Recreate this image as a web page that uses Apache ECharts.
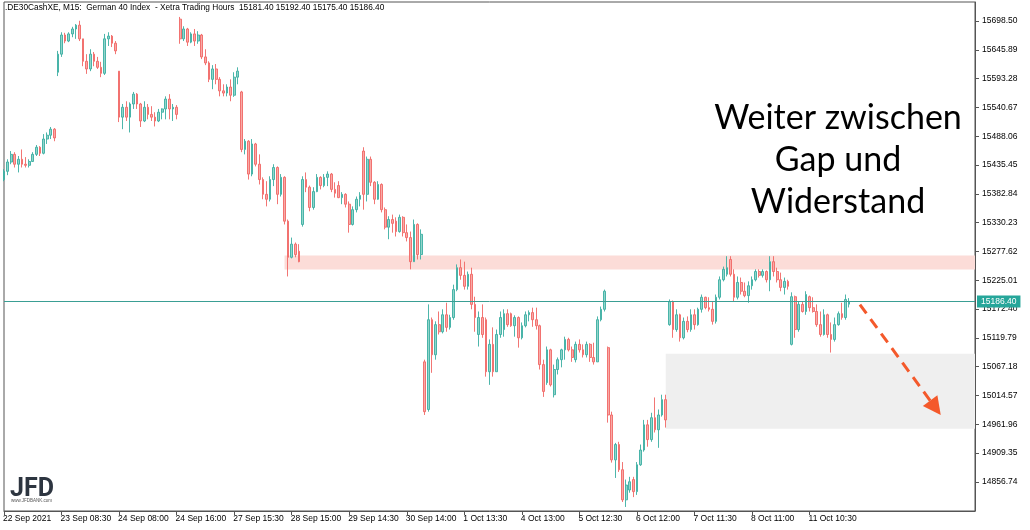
<!DOCTYPE html>
<html><head><meta charset="utf-8">
<script src="https://cdn.jsdelivr.net/npm/echarts@6/dist/echarts.min.js"></script>
<style>html,body{margin:0;padding:0;background:#fff}#c{width:1030px;height:530px}</style>
</head><body><div id="c"></div>
<script>
const titleText = '.DE30CashXE, M15:  German 40 Index  - Xetra Trading Hours  15181.40 15192.40 15175.40 15186.40';
const xTickLabels = ['22 Sep 2021','23 Sep 08:30','24 Sep 08:00','24 Sep 16:00','27 Sep 15:30','28 Sep 15:00','29 Sep 14:30','30 Sep 14:00','1 Oct 13:30','4 Oct 13:00','5 Oct 12:30','6 Oct 12:00','7 Oct 11:30','8 Oct 11:00','11 Oct 10:30'];
const barsPerTick = 16;
const totalSlots = 271;
const yTickValues = [14856.74,14909.35,14961.96,15014.57,15067.18,15119.79,15172.40,15225.01,15277.62,15330.23,15382.84,15435.45,15488.06,15540.67,15593.28,15645.89,15698.50];
const yMin = 14803.6, yMax = 15733.3;
// [open, close, low, high]
const candles = [
// 22 Sep
[15409,15424,15406,15428],[15424,15441,15417,15446],[15441,15455,15437,15461],[15455,15437,15431,15459],[15437,15446,15422,15452],
[15446,15437,15431,15464],[15437,15435,15431,15450],[15435,15442,15431,15446],[15442,15455,15441,15459],[15455,15468,15452,15472],
[15468,15457,15452,15470],[15457,15483,15455,15492],[15483,15490,15474,15495],[15490,15501,15483,15505],[15501,15485,15479,15503],
// 23 Sep
[15605,15638,15598,15644],[15638,15673,15633,15678],[15673,15662,15658,15677],[15662,15675,15660,15678],[15675,15684,15669,15688],
[15684,15691,15666,15693],[15691,15666,15662,15699],[15666,15625,15616,15666],[15625,15611,15602,15638],[15611,15638,15607,15647],
[15638,15625,15616,15642],[15625,15614,15611,15633],[15614,15603,15596,15624],[15603,15666,15600,15675],[15666,15671,15653,15678],
[15671,15658,15651,15673],[15658,15644,15638,15662],
// 24 Sep
[15607,15523,15514,15607],[15523,15541,15501,15547],[15541,15523,15516,15552],[15523,15547,15495,15550],[15547,15565,15538,15569],
[15565,15547,15538,15567],[15547,15516,15505,15549],[15516,15541,15514,15552],[15541,15528,15519,15547],[15528,15523,15516,15543],
[15523,15516,15506,15532],[15516,15532,15514,15538],[15532,15538,15519,15539],[15538,15556,15519,15561],[15556,15538,15519,15565],
[15538,15541,15516,15547],[15541,15528,15519,15545],
// 27 Sep
[15702,15666,15657,15706],[15666,15684,15662,15689],[15684,15660,15653,15686],[15660,15675,15658,15678],[15675,15662,15653,15684],
[15662,15673,15657,15680],[15673,15633,15629,15675],[15633,15622,15618,15647],[15622,15592,15587,15625],[15592,15611,15574,15618],
[15611,15592,15583,15620],[15592,15571,15561,15596],[15571,15567,15561,15583],[15567,15578,15561,15583],[15578,15563,15552,15592],
[15563,15596,15560,15605],[15596,15607,15583,15614],
// 28 Sep
[15569,15464,15459,15571],[15464,15479,15455,15483],[15479,15419,15409,15481],[15419,15474,15415,15483],[15474,15437,15433,15476],
[15437,15409,15400,15455],[15409,15382,15373,15413],[15382,15373,15360,15406],[15373,15409,15369,15415],[15409,15431,15397,15437],
[15431,15382,15364,15433],[15382,15413,15378,15419],[15413,15333,15327,15415],[15333,15267,15232,15336],[15267,15291,15265,15303],
[15291,15272,15267,15294],[15278,15259,15258,15291],
// 29 Sep
[15327,15409,15323,15415],[15409,15395,15386,15422],[15395,15358,15351,15398],[15358,15387,15354,15395],[15387,15413,15386,15419],
[15413,15398,15391,15415],[15398,15413,15395,15419],[15413,15419,15397,15424],[15419,15391,15386,15421],[15391,15384,15376,15404],
[15398,15376,15375,15406],[15376,15382,15364,15386],[15382,15364,15358,15384],[15364,15327,15312,15369],[15327,15354,15325,15360],
[15354,15373,15349,15378],[15373,15380,15360,15386],
// 30 Sep
[15461,15382,15354,15468],[15382,15446,15369,15451],[15446,15404,15397,15451],[15404,15373,15364,15406],[15373,15400,15372,15406],
[15400,15354,15349,15402],[15354,15322,15318,15358],[15322,15336,15300,15342],[15336,15329,15312,15345],[15333,15314,15305,15340],
[15314,15340,15312,15345],[15340,15312,15305,15342],[15312,15303,15296,15327],[15303,15259,15245,15314],[15259,15327,15259,15336],
[15327,15272,15263,15329],[15272,15309,15263,15318],
// 1 Oct
[15076,14985,14979,15080],[14989,15153,14985,15181],[15153,15089,15056,15157],[15089,15144,15080,15150],[15144,15131,15126,15168],
[15131,15162,15128,15172],[15162,15139,15131,15184],[15139,15157,15135,15162],[15157,15208,15153,15217],[15208,15248,15205,15254],
[15248,15234,15226,15263],[15234,15214,15208,15259],[15214,15236,15208,15241],[15236,15181,15172,15248],[15181,15157,15131,15195],
[15126,15157,15104,15168],[15157,15126,15120,15181],
// 4 Oct
[15153,15058,15049,15157],[15058,15108,15034,15117],[15108,15058,15049,15139],[15058,15126,15058,15135],[15126,15157,15120,15168],
[15135,15164,15122,15172],[15164,15144,15140,15172],[15164,15142,15140,15166],[15142,15157,15122,15161],[15157,15120,15102,15159],
[15120,15142,15117,15148],[15142,15162,15139,15168],[15162,15166,15150,15170],[15166,15153,15140,15175],[15153,15142,15135,15175],
[15142,15071,15062,15144],[15071,15022,15012,15080],
// 5 Oct
[15038,15098,15034,15104],[15098,15034,15031,15100],[15016,15062,15011,15071],[15062,15080,15053,15084],[15080,15098,15066,15100],
[15098,15117,15080,15122],[15117,15098,15095,15120],[15098,15084,15076,15104],[15080,15108,15075,15113],[15108,15098,15093,15117],
[15098,15089,15084,15108],[15089,15108,15084,15113],[15108,15084,15076,15110],[15084,15076,15071,15111],[15076,15153,15076,15159],
[15153,15172,15150,15177],[15172,15205,15168,15208],
// 6 Oct
[15102,14979,14965,15104],[14979,14897,14892,14985],[14897,14925,14864,14928],[14925,14879,14875,14930],[14879,14824,14820,14893],
[14824,14851,14811,14861],[14842,14857,14837,14866],[14861,14839,14829,14866],[14839,14888,14833,14893],[14888,14915,14886,14925],
[14915,14961,14912,14970],[14961,14934,14921,14970],[14934,14974,14930,14983],[14974,14952,14947,15011],[14952,14979,14919,14989],
[14979,15007,14976,15016],[15007,14970,14956,15016],
// 7 Oct
[15144,15186,15142,15190],[15186,15135,15120,15188],[15135,15162,15131,15172],[15162,15120,15113,15164],[15120,15150,15117,15157],
[15150,15135,15130,15159],[15135,15162,15131,15172],[15162,15144,15135,15172],[15144,15172,15142,15175],[15172,15194,15166,15199],
[15194,15175,15172,15195],[15175,15172,15168,15194],[15172,15150,15144,15186],[15150,15194,15146,15199],[15194,15226,15190,15232],
[15226,15245,15223,15250],[15236,15248,15232,15269],
// 8 Oct
[15263,15236,15232,15269],[15236,15194,15186,15245],[15194,15221,15190,15232],[15221,15205,15199,15230],[15205,15197,15194,15221],
[15197,15215,15184,15223],[15215,15226,15208,15232],[15226,15241,15223,15245],[15241,15234,15230,15245],[15234,15241,15230,15245],
[15241,15226,15221,15243],[15226,15259,15205,15269],[15259,15241,15232,15269],[15241,15226,15221,15248],[15226,15212,15205,15239],
[15212,15223,15199,15230],[15223,15214,15208,15226],
// 11 Oct
[15108,15195,15106,15203],[15195,15135,15120,15197],[15135,15181,15131,15186],[15181,15168,15166,15186],[15168,15199,15162,15205],
[15195,15175,15168,15197],[15175,15168,15166,15194],[15168,15144,15140,15181],[15144,15126,15122,15168],[15126,15162,15124,15172],
[15162,15126,15120,15164],[15126,15117,15093,15148],[15117,15144,15113,15157],[15144,15164,15142,15168],[15164,15157,15153,15184],
[15157,15190,15153,15199],[15181.4,15186.4,15175.4,15192.4]
];
const lastPrice = 15186.40;
const resistanceZone = { from: 78, to: 270, low: 15244.7, high: 15270.3 };
const gapZone = { from: 184, to: 270, low: 14953.8, high: 15091.0 };
const arrowFrom = [238, 15180.7], arrowTo = [259, 14992.0];
const annotation = 'Weiter zwischen\nGap und\nWiderstand';

const categories = Array.from({length: totalSlots}, (_, i) => String(i));
const isTick = (i) => i % barsPerTick === 0 && i / barsPerTick < xTickLabels.length;

const chart = echarts.init(document.getElementById('c'), null, {renderer: 'canvas'});
chart.setOption({
  animation: false,
  backgroundColor: '#fff',
  grid: { left: 3, top: 2, right: 55, bottom: 19, show: true, borderColor: '#555', borderWidth: 1, backgroundColor: 'transparent' },
  xAxis: {
    type: 'category', data: categories, boundaryGap: false,
    axisLine: { show: true, lineStyle: { color: '#555', width: 1 } },
    axisTick: { show: true, interval: (i) => isTick(i), length: 4, lineStyle: { color: '#555' } },
    axisLabel: { interval: (i) => isTick(i), formatter: (v, i) => isTick(i) ? xTickLabels[i / barsPerTick] : '',
      align: 'left', margin: 3, fontSize: 8.5, color: '#000', fontFamily: 'Liberation Sans', padding: [0,0,0,-1] },
    splitLine: { show: false }
  },
  yAxis: {
    type: 'value', position: 'right', min: yMin, max: yMax, scale: true,
    axisLine: { show: true, lineStyle: { color: '#555', width: 1 } },
    axisTick: { show: true, customValues: yTickValues, length: 4, lineStyle: { color: '#555' } },
    axisLabel: { customValues: yTickValues, formatter: (v) => v.toFixed(2), margin: 7, fontSize: 8.5, color: '#000', fontFamily: 'Liberation Sans' },
    splitLine: { show: false }
  },
  series: [
    {
      type: 'line', data: [], z: 1, silent: true,
      markArea: { silent: true, data: [
        [{ xAxis: resistanceZone.from, yAxis: resistanceZone.high, itemStyle: { color: '#fcdcd8' } }, { xAxis: resistanceZone.to, yAxis: resistanceZone.low }],
        [{ xAxis: gapZone.from, yAxis: gapZone.high, itemStyle: { color: '#efefef' } }, { xAxis: gapZone.to, yAxis: gapZone.low }]
      ] }
    },
    {
      type: 'candlestick', data: candles, z: 3, barWidth: 2.2,
      itemStyle: { color: '#92d5ca', color0: '#f8aaa7', borderColor: '#3aaea1', borderColor0: '#f06764', borderWidth: 0.9 },
      markLine: { silent: true, symbol: 'none', animation: false, data: [
        { yAxis: lastPrice, lineStyle: { color: '#3a9e94', width: 1, type: 'solid' },
          label: { show: true, position: 'end', formatter: lastPrice.toFixed(2), backgroundColor: '#26a69a', color: '#fff',
            padding: [2, 4, 1, 4], fontSize: 8.5, fontFamily: 'Liberation Sans', distance: 2 } },
      ] }
    },
    {
      type: 'line', data: [], z: 5, silent: true,
      markLine: { silent: true, symbol: ['none', 'triangle'], symbolSize: [18, 18], animation: false,
        lineStyle: { color: '#f4592b', width: 3, type: [11, 7] }, label: { show: false },
        data: [[{ coord: arrowFrom }, { coord: arrowTo }]] }
    }
  ],
  graphic: [
    { type: 'text', left: 5, top: 4, style: { text: titleText, fontSize: 8.3, fontFamily: 'Liberation Sans', fill: '#000' } },
    { type: 'text', x: 838, y: 160, style: { text: annotation, fontSize: 34, fontFamily: 'Lato', fill: '#000', align: 'center', verticalAlign: 'middle', lineHeight: 42 } },
    { type: 'text', x: 10, y: 477, style: { text: 'JFD', fontSize: 25, fontWeight: 'bold', fontFamily: 'Roboto', fill: '#2d3540' } },
    { type: 'text', x: 11, y: 498, style: { text: 'www.JFDBANK.com', fontSize: 4.5, fontFamily: 'Liberation Sans', fill: '#555' } }
  ]
});
</script></body></html>
